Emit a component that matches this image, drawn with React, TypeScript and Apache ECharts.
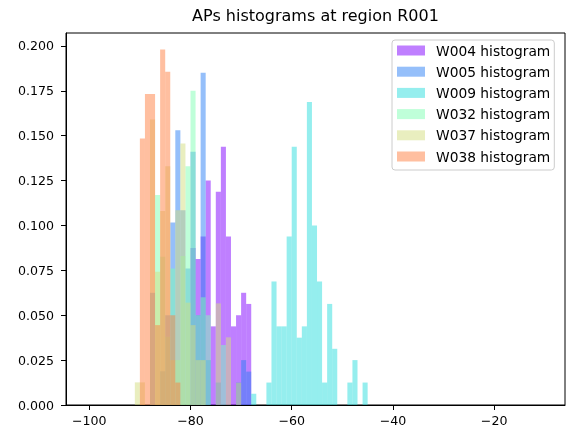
import React, { useEffect, useRef } from "react";
import * as echarts from "echarts";

// Histogram densities, bin width 1 dBm; each array starts at the bin whose left edge is given.
const seriesNames = [
  "W004 histogram",
  "W005 histogram",
  "W009 histogram",
  "W032 histogram",
  "W037 histogram",
  "W038 histogram",
];

const w004Start = -80;
const w004 = [0.0875, 0.0813, 0.0938, 0.125, 0.0438, 0.1188, 0.1438, 0.0938, 0.0438, 0.05, 0.0625, 0.0563];

const w005Start = -88;
const w005 = [0.0625, 0, 0.0188, 0.05, 0.1017, 0.153, 0.1085, 0.076, 0.141, 0.05, 0.185, 0.025, 0, 0.0125, 0, 0, 0, 0.0125, 0.025, 0.0186];

const w009Start = -68;
const w009 = [0.0063, 0, 0, 0.0125, 0.0688, 0.0438, 0.0438, 0.0938, 0.1438, 0.0375, 0.0438, 0.1688, 0.1, 0.0688, 0.0125, 0.0563, 0.0313, 0, 0, 0.0125, 0.025, 0, 0.0125];

const w032Start = -87;
const w032 = [0.117, 0.0826, 0.038, 0.076, 0.025, 0.083, 0.133, 0.175, 0.05, 0.06, 0.05, 0, 0, 0.0334];

const w037Start = -91;
const w037 = [0.0126, 0.0126, 0, 0.159, 0.0742, 0.108, 0.133, 0.025, 0.1085, 0.1457, 0.057, 0.0445, 0.025, 0.025, 0, 0, 0.0566, 0, 0.0377, 0, 0.0124];

const w038Start = -90;
const w038 = [0.1485, 0.1732, 0.1732, 0.0445, 0.198, 0.1856, 0.05, 0.0125];

const xTicks = [-100, -80, -60, -40, -20];
const yTicks = [0, 0.025, 0.05, 0.075, 0.1, 0.125, 0.15, 0.175, 0.2];

const colors = [
  "rgba(128,0,255,0.5)",
  "rgba(43,128,246,0.5)",
  "rgba(43,221,221,0.5)",
  "rgba(128,255,180,0.5)",
  "rgba(212,221,128,0.5)",
  "rgba(255,128,66,0.5)",
];

const FONT = "DejaVu Sans";

function toData(start: number, vals: number[]) {
  const out: number[][] = [];
  vals.forEach((v, i) => {
    if (v > 0) out.push([start + i, v]);
  });
  return out;
}

export default function App() {
  const ref = useRef<HTMLDivElement>(null);
  useEffect(() => {
    const chart = echarts.init(ref.current!, null, { renderer: "svg" });
    const all = [
      toData(w004Start, w004),
      toData(w005Start, w005),
      toData(w009Start, w009),
      toData(w032Start, w032),
      toData(w037Start, w037),
      toData(w038Start, w038),
    ];
    const series = all.map((data, k) => ({
      type: "custom",
      name: seriesNames[k],
      data,
      itemStyle: { color: colors[k] },
      z: 2 + k,
      renderItem: (params: any, api: any) => {
        const x0 = api.value(0);
        const h = api.value(1);
        const p0 = api.coord([x0, h]);
        const p1 = api.coord([x0 + 1, 0]);
        return {
          type: "rect",
          shape: { x: p0[0], y: p0[1], width: p1[0] - p0[0], height: p1[1] - p0[1] },
          style: { fill: colors[k] },
        };
      },
    }));
    chart.setOption({
      animation: false,
      grid: {
        left: 66,
        top: 33,
        right: 1,
        bottom: 27,
        show: true,
        borderColor: "#000",
        borderWidth: 1,
        backgroundColor: "transparent",
      },
      graphic: [
        {
          type: "text",
          x: 315.5,
          y: 7,
          z: 100,
          style: {
            text: "APs histograms at region R001",
            fontSize: 16,
            fontFamily: FONT,
            fill: "#000",
            textAlign: "center",
            align: "center",
            textVerticalAlign: "top",
            verticalAlign: "top",
          },
        },
      ],
      legend: {
        orient: "vertical",
        left: 392,
        top: 40,
        padding: [2.5, 4, 5.5, 5],
        itemWidth: 28,
        itemHeight: 10,
        itemGap: 5.2,
        icon: "rect",
        backgroundColor: "rgba(255,255,255,0.8)",
        borderColor: "#cccccc",
        borderWidth: 1,
        borderRadius: 3,
        textStyle: {
          fontFamily: FONT,
          fontSize: 13.8,
          color: "#000",
          lineHeight: 16,
          padding: [0, 0, 0, 6],
        },
        data: seriesNames,
      },
      xAxis: {
        type: "value",
        min: -104.6,
        max: -6,
        splitLine: { show: false },
        axisLine: { show: true, lineStyle: { color: "#000" } },
        axisTick: { show: true, length: 5, lineStyle: { color: "#000" }, customValues: xTicks },
        axisLabel: {
          customValues: xTicks,
          margin: 9,
          fontFamily: FONT,
          fontSize: 12.6,
          color: "#000",
          formatter: (v: number) => String(v).replace("-", "\u2212"),
        },
      },
      yAxis: {
        type: "value",
        min: 0,
        max: 0.2072,
        splitLine: { show: false },
        axisLine: { show: true, lineStyle: { color: "#000" } },
        axisTick: { show: true, length: 5, lineStyle: { color: "#000" }, customValues: yTicks },
        axisLabel: {
          customValues: yTicks,
          margin: 12,
          fontFamily: FONT,
          fontSize: 12.6,
          color: "#000",
          formatter: (v: number) => v.toFixed(3),
        },
      },
      series,
    });
    return () => chart.dispose();
  }, []);
  return (
    <div
      ref={ref}
      style={{ position: "fixed", left: 0, top: 0, width: 566, height: 432 }}
    />
  );
}
